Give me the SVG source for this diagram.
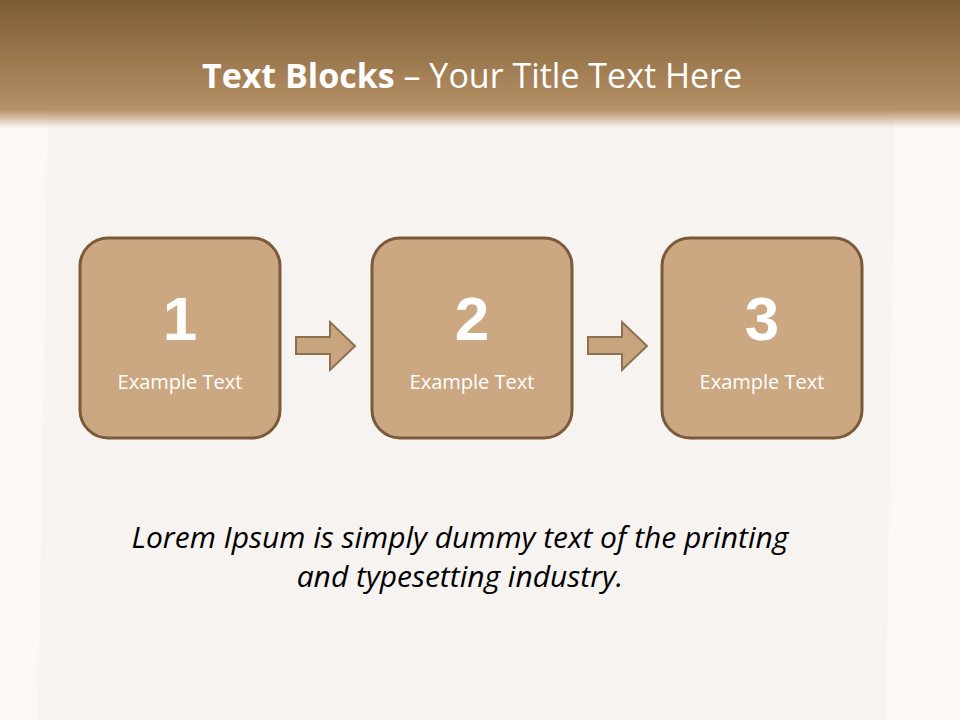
<svg xmlns="http://www.w3.org/2000/svg" width="960" height="720" viewBox="0 0 960 720">
<defs>
<linearGradient id="hdr" x1="0" y1="0" x2="0" y2="1">
<stop offset="0" stop-color="#7c5b35"/>
<stop offset="0.8" stop-color="#b38d62"/>
<stop offset="0.86" stop-color="#b89368"/>
<stop offset="1" stop-color="#b89368" stop-opacity="0"/>
</linearGradient>
<style>
.box{fill:#cba882;stroke:#7b5a3a;stroke-width:3}
.arr{fill:#c8a57e;stroke:#8c7050;stroke-width:2}
.num{font-family:"Liberation Sans",Arial,sans-serif;font-weight:bold;font-size:62px;fill:#fff;text-anchor:middle}
.lbl{font-family:"Open Sans",sans-serif;font-size:20px;fill:#fff;text-anchor:middle}
.ttl{font-family:"Open Sans",sans-serif;font-size:34px;fill:#fff;text-anchor:middle}
.body{font-family:"Open Sans",sans-serif;font-style:italic;font-size:30px;fill:#000;text-anchor:middle}
</style>
</defs>
<rect width="960" height="720" fill="#fcf8f5"/>
<polygon points="48,110 895,110 886,720 38,720" fill="#f6f3f1"/>
<rect x="0" y="0" width="960" height="128" fill="url(#hdr)"/>
<text class="ttl" x="472" y="88"><tspan font-weight="bold">Text Blocks</tspan> – Your Title Text Here</text>
<g id="connectors">
<polygon class="arr" points="296,337 330,337 330,322 355,346 330,370 330,354 296,354"/>
<polygon class="arr" points="588,337 622,337 622,322 647,346 622,370 622,354 588,354"/>
</g>
<g id="node1">
<rect class="box" x="80" y="238" width="200" height="200" rx="28"/>
<text class="num" x="180" y="340">1</text>
<text class="lbl" x="180" y="389">Example Text</text>
</g>
<g id="node2">
<rect class="box" x="372" y="238" width="200" height="200" rx="28"/>
<text class="num" x="472" y="340">2</text>
<text class="lbl" x="472" y="389">Example Text</text>
</g>
<g id="node3">
<rect class="box" x="662" y="238" width="200" height="200" rx="28"/>
<text class="num" x="762" y="340">3</text>
<text class="lbl" x="762" y="389">Example Text</text>
</g>
<g id="caption">
<text class="body" x="460" y="548">Lorem Ipsum is simply dummy text of the printing</text>
<text class="body" x="460" y="587">and typesetting industry.</text>
</g>
</svg>
